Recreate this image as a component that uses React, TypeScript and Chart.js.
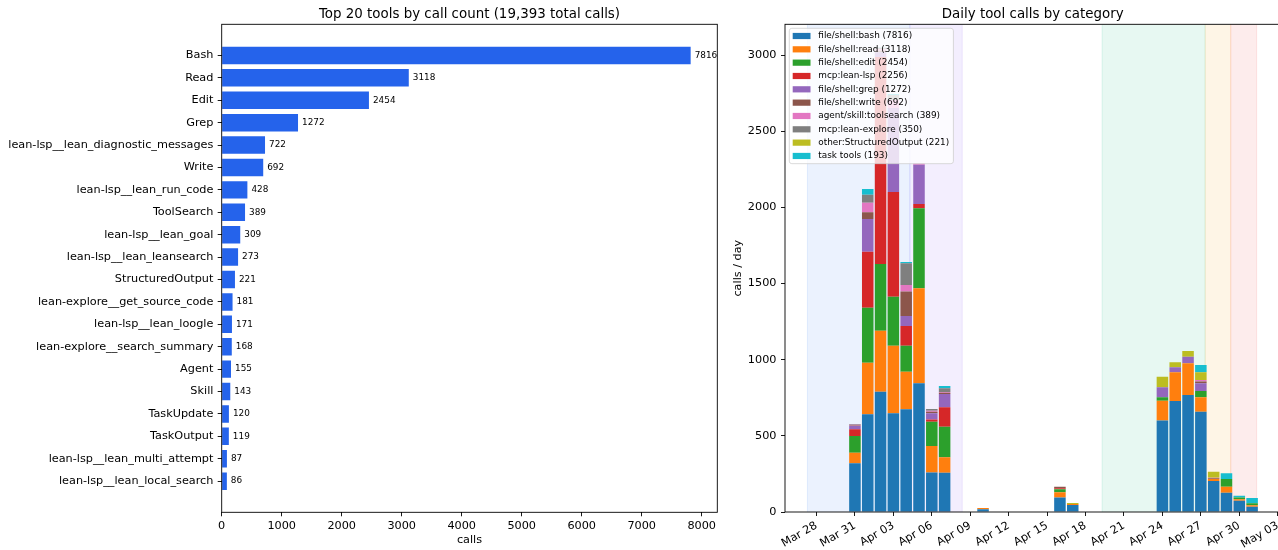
import React, { useEffect, useRef } from 'react';
import { Chart, registerables } from 'chart.js';

Chart.register(...registerables);

const FONT = "'DejaVu Sans', 'Liberation Sans', sans-serif";

// ---------- Left chart data ----------
const toolNames = [
  'Bash', 'Read', 'Edit', 'Grep', 'lean-lsp__lean_diagnostic_messages', 'Write',
  'lean-lsp__lean_run_code', 'ToolSearch', 'lean-lsp__lean_goal', 'lean-lsp__lean_leansearch',
  'StructuredOutput', 'lean-explore__get_source_code', 'lean-lsp__lean_loogle',
  'lean-explore__search_summary', 'Agent', 'Skill', 'TaskUpdate', 'TaskOutput',
  'lean-lsp__lean_multi_attempt', 'lean-lsp__lean_local_search',
];
const toolCounts = [7816, 3118, 2454, 1272, 722, 692, 428, 389, 309, 273, 221, 181, 171, 168, 155, 143, 120, 119, 87, 86];
const callTicks = [0, 1000, 2000, 3000, 4000, 5000, 6000, 7000, 8000];
const leftTitle = 'Top 20 tools by call count (19,393 total calls)';

// ---------- Right chart data ----------
const rightTitle = 'Daily tool calls by category';
const dayDates = [
  '2025-03-31', '2025-04-01', '2025-04-02', '2025-04-03', '2025-04-04', '2025-04-05', '2025-04-06', '2025-04-07',
  '2025-04-10', '2025-04-16', '2025-04-17',
  '2025-04-24', '2025-04-25', '2025-04-26', '2025-04-27', '2025-04-28', '2025-04-29', '2025-04-30', '2025-05-01',
];
const bashCalls = [320, 641, 790, 648, 674, 845, 260, 258, 18, 96, 46, 600, 729, 768, 659, 204, 127, 74, 35];
const readCalls = [69, 339, 400, 444, 247, 624, 173, 101, 8, 33, 6, 131, 188, 208, 94, 13, 39, 9, 9];
const editCalls = [110, 361, 438, 322, 171, 525, 160, 201, 0, 20, 0, 22, 0, 0, 41, 0, 51, 13, 13];
const leanLspCalls = [44, 368, 1360, 687, 129, 28, 15, 127, 0, 7, 0, 0, 0, 0, 0, 0, 0, 0, 0];
const grepCalls = [22, 215, 30, 551, 66, 258, 40, 88, 0, 0, 0, 66, 33, 44, 51, 0, 0, 0, 0];
const writeCalls = [3, 44, 10, 0, 160, 0, 10, 8, 0, 10, 0, 0, 0, 0, 11, 4, 0, 0, 0];
const toolsearchCalls = [5, 63, 10, 53, 43, 10, 7, 5, 0, 0, 0, 0, 0, 0, 11, 4, 0, 0, 0];
const leanExploreCalls = [5, 52, 10, 33, 143, 0, 11, 24, 0, 0, 0, 0, 0, 0, 0, 0, 0, 0, 0];
const otherCalls = [0, 0, 0, 0, 0, 0, 0, 0, 0, 0, 7, 69, 33, 37, 50, 40, 0, 0, 0];
const taskCalls = [0, 38, 2, 7, 8, 0, 0, 15, 0, 0, 0, 0, 0, 0, 48, 0, 37, 11, 35];

const categoryNames = [
  'file/shell:bash', 'file/shell:read', 'file/shell:edit', 'mcp:lean-lsp', 'file/shell:grep',
  'file/shell:write', 'agent/skill:toolsearch', 'mcp:lean-explore', 'other:StructuredOutput', 'task tools',
];
const categoryTotals = [7816, 3118, 2454, 2256, 1272, 692, 389, 350, 221, 193];
const categorySeries = [
  bashCalls, readCalls, editCalls, leanLspCalls, grepCalls,
  writeCalls, toolsearchCalls, leanExploreCalls, otherCalls, taskCalls,
];
const categoryColors = [
  '#1f77b4', '#ff7f0e', '#2ca02c', '#d62728', '#9467bd',
  '#8c564b', '#e377c2', '#7f7f7f', '#bcbd22', '#17becf',
];
const dateTicks = [
  '2025-03-28', '2025-03-31', '2025-04-03', '2025-04-06', '2025-04-09', '2025-04-12', '2025-04-15',
  '2025-04-18', '2025-04-21', '2025-04-24', '2025-04-27', '2025-04-30', '2025-05-03',
];
const dailyTicks = [0, 500, 1000, 1500, 2000, 2500, 3000];
const dailyMax = 3202;
const dateMin = '2025-03-25T13:00:00Z';
const dateMax = '2025-05-03T05:00:00Z';
const spanStarts = ['2025-03-27T07:00:00Z', '2025-04-04T07:00:00Z', '2025-04-19T07:00:00Z', '2025-04-27T08:00:00Z', '2025-04-29T08:00:00Z'];
const spanEnds = ['2025-04-04T07:00:00Z', '2025-04-08T09:00:00Z', '2025-04-27T08:00:00Z', '2025-04-29T08:00:00Z', '2025-05-01T08:30:00Z'];
const spanColors = ['59,130,246', '139,92,246', '16,185,129', '245,158,11', '239,68,68'];

const MONTHS = ['Jan', 'Feb', 'Mar', 'Apr', 'May', 'Jun', 'Jul', 'Aug', 'Sep', 'Oct', 'Nov', 'Dec'];
const BASE = Date.parse('2025-03-28T00:00:00Z');
const toDays = (iso: string) => {
  const s = iso.length === 10 ? iso + 'T00:00:00Z' : iso;
  return (Date.parse(s) - BASE) / 86400000;
};
const fmtDate = (iso: string) => {
  const d = new Date(iso + 'T00:00:00Z');
  return `${MONTHS[d.getUTCMonth()]} ${String(d.getUTCDate()).padStart(2, '0')}`;
};

const tickFont = { family: FONT, size: 11.25 };

const gridOpts = {
  display: true,
  drawOnChartArea: false,
  drawTicks: true,
  tickLength: 4,
  tickWidth: 0.9,
  tickColor: '#000',
  color: '#000',
  lineWidth: 0.9,
  offset: false,
};

const makeTitlePlugin = (text: string) => ({
  id: 'axTitle',
  afterDraw(chart: any) {
    const { ctx, chartArea } = chart;
    ctx.save();
    ctx.font = `13.4px ${FONT}`;
    ctx.fillStyle = '#000';
    ctx.textAlign = 'center';
    ctx.textBaseline = 'alphabetic';
    ctx.fillText(text, (chartArea.left + chartArea.right) / 2, chartArea.top - 6.5);
    ctx.restore();
  },
});

const framePlugin = {
  id: 'frame',
  afterDatasetsDraw(chart: any) {
    const { ctx, chartArea } = chart;
    ctx.save();
    ctx.strokeStyle = '#000';
    ctx.lineWidth = 0.9;
    ctx.strokeRect(chartArea.left, chartArea.top, chartArea.right - chartArea.left, chartArea.bottom - chartArea.top);
    ctx.restore();
  },
};

const valueLabelPlugin = {
  id: 'valueLabels',
  afterDatasetsDraw(chart: any) {
    const { ctx } = chart;
    const meta = chart.getDatasetMeta(0);
    ctx.save();
    ctx.font = `8.9px ${FONT}`;
    ctx.fillStyle = '#000';
    ctx.textAlign = 'left';
    ctx.textBaseline = 'middle';
    meta.data.forEach((bar: any, i: number) => {
      const { x, y } = bar.getProps(['x', 'y'], true);
      ctx.fillText(String(toolCounts[i]), x + 4, y);
    });
    ctx.restore();
  },
};

const spanPlugin = {
  id: 'spans',
  beforeDatasetsDraw(chart: any) {
    const { ctx, chartArea } = chart;
    const xs = chart.scales.x;
    ctx.save();
    ctx.beginPath();
    ctx.rect(chartArea.left, chartArea.top, chartArea.right - chartArea.left, chartArea.bottom - chartArea.top);
    ctx.clip();
    spanStarts.forEach((s, i) => {
      const x0 = xs.getPixelForValue(toDays(s));
      const x1 = xs.getPixelForValue(toDays(spanEnds[i]));
      ctx.fillStyle = `rgba(${spanColors[i]},0.1)`;
      ctx.fillRect(x0, chartArea.top, x1 - x0, chartArea.bottom - chartArea.top);
      ctx.strokeStyle = `rgba(${spanColors[i]},0.12)`;
      ctx.lineWidth = 1;
      ctx.beginPath();
      ctx.moveTo(x0, chartArea.top); ctx.lineTo(x0, chartArea.bottom);
      ctx.moveTo(x1, chartArea.top); ctx.lineTo(x1, chartArea.bottom);
      ctx.stroke();
    });
    ctx.restore();
  },
};

const legendPlugin = {
  id: 'catLegend',
  afterDraw(chart: any) {
    const { ctx, chartArea } = chart;
    ctx.save();
    ctx.font = `8.9px ${FONT}`;
    const labels = categoryNames.map((n, i) => `${n} (${categoryTotals[i]})`);
    const maxW = Math.max(...labels.map((l) => ctx.measureText(l).width));
    const x0 = chartArea.left + 4.3;
    const y0 = chartArea.top + 4;
    const rowH = 13.33;
    const w = 29 + maxW + 4.2;
    const h = 7.7 * 2 + rowH * (labels.length - 1);
    ctx.beginPath();
    (ctx as any).roundRect(x0, y0, w, h, 2.5);
    ctx.fillStyle = 'rgba(255,255,255,0.8)';
    ctx.fill();
    ctx.lineWidth = 0.9;
    ctx.strokeStyle = 'rgba(204,204,204,0.8)';
    ctx.stroke();
    labels.forEach((l, i) => {
      const cy = y0 + 7.7 + i * rowH;
      ctx.fillStyle = categoryColors[i];
      ctx.fillRect(x0 + 3.4, cy - 3.1, 17.8, 6.2);
      ctx.fillStyle = '#000';
      ctx.textAlign = 'left';
      ctx.textBaseline = 'middle';
      ctx.fillText(l, x0 + 29, cy);
    });
    ctx.restore();
  },
};

function TopToolsChart() {
  const ref = useRef<HTMLCanvasElement>(null);
  useEffect(() => {
    const chart = new Chart(ref.current as HTMLCanvasElement, {
      type: 'bar',
      data: {
        datasets: [
          {
            data: toolCounts.map((v, i) => ({ x: v, y: i })) as any,
            backgroundColor: '#2563eb',
            borderWidth: 0,
            barPercentage: 0.78,
            categoryPercentage: 1,
          },
        ],
      },
      options: {
        indexAxis: 'y',
        responsive: false,
        animation: false,
        events: [],
        layout: { padding: { top: 24.3, right: 12.7, bottom: 0, left: 0 } },
        plugins: { legend: { display: false }, tooltip: { enabled: false }, title: { display: false } },
        scales: {
          x: {
            type: 'linear',
            min: 0,
            max: 8260,
            offset: false,
            grid: gridOpts as any,
            border: { display: false },
            afterBuildTicks: (s: any) => { s.ticks = callTicks.map((v) => ({ value: v })); },
            afterFit: (s: any) => { s.height = 37.7; s.paddingLeft = 0; s.paddingRight = 0; },
            ticks: { color: '#000', font: tickFont, padding: 3, autoSkip: false, maxRotation: 0, minRotation: 0, callback: (v: any) => String(v) },
            title: { display: true, text: 'calls', color: '#000', font: tickFont, padding: { top: 0, bottom: 2.8 } },
          },
          y: {
            type: 'linear',
            reverse: true,
            min: -1.39,
            max: 20.39,
            offset: false,
            grid: gridOpts as any,
            border: { display: false },
            afterBuildTicks: (s: any) => { s.ticks = toolNames.map((_, i) => ({ value: i })); },
            afterFit: (s: any) => { s.width = 221.7; s.paddingTop = 0; s.paddingBottom = 0; },
            ticks: { color: '#000', font: tickFont, padding: 4.3, autoSkip: false, callback: (v: any) => toolNames[v] ?? '' },
          },
        },
      } as any,
      plugins: [makeTitlePlugin(leftTitle), framePlugin, valueLabelPlugin],
    });
    return () => chart.destroy();
  }, []);
  return (
    <canvas ref={ref} width={730} height={550} style={{ position: 'absolute', left: 0, top: 0, width: 730, height: 550 }} />
  );
}

function DailyChart() {
  const ref = useRef<HTMLCanvasElement>(null);
  useEffect(() => {
    const xs = dayDates.map(toDays);
    const chart = new Chart(ref.current as HTMLCanvasElement, {
      type: 'bar',
      data: {
        datasets: categorySeries.map((series, ci) => ({
          label: categoryNames[ci],
          data: series.map((v, i) => ({ x: xs[i], y: v })) as any,
          backgroundColor: categoryColors[ci],
          borderWidth: 0,
          barPercentage: 0.9,
          categoryPercentage: 1,
        })),
      },
      options: {
        responsive: false,
        animation: false,
        events: [],
        layout: { padding: { top: 24.3, right: 0.6, bottom: 0, left: 0 } },
        plugins: { legend: { display: false }, tooltip: { enabled: false }, title: { display: false } },
        scales: {
          x: {
            type: 'linear',
            stacked: true,
            min: toDays(dateMin),
            max: toDays(dateMax),
            offset: false,
            grid: gridOpts as any,
            border: { display: false },
            afterBuildTicks: (s: any) => { s.ticks = dateTicks.map((d) => ({ value: toDays(d) })); },
            afterFit: (s: any) => { s.height = 38; s.paddingLeft = 0; s.paddingRight = 0; },
            ticks: {
              color: '#000', font: tickFont, padding: 3, autoSkip: false, maxRotation: 30, minRotation: 30,
              callback: (_v: any, i: number) => fmtDate(dateTicks[i]),
            },
          },
          y: {
            type: 'linear',
            stacked: true,
            min: 0,
            max: dailyMax,
            grid: gridOpts as any,
            border: { display: false },
            afterBuildTicks: (s: any) => { s.ticks = dailyTicks.map((v) => ({ value: v })); },
            afterFit: (s: any) => { s.width = 55; s.paddingTop = 0; s.paddingBottom = 0; },
            ticks: { color: '#000', font: tickFont, padding: 4.5, autoSkip: false, callback: (v: any) => String(v) },
            title: { display: true, text: 'calls / day', color: '#000', font: tickFont, padding: { top: 1.3, bottom: 0 } },
          },
        },
      } as any,
      plugins: [spanPlugin, makeTitlePlugin(rightTitle), framePlugin, legendPlugin],
    });
    return () => chart.destroy();
  }, []);
  return (
    <canvas ref={ref} width={551} height={550} style={{ position: 'absolute', left: 730, top: 0, width: 551, height: 550 }} />
  );
}

export default function App() {
  return (
    <div style={{ position: 'absolute', left: 0, top: 0, width: 1278, height: 550, overflow: 'hidden', background: '#fff' }}>
      <TopToolsChart />
      <DailyChart />
    </div>
  );
}
